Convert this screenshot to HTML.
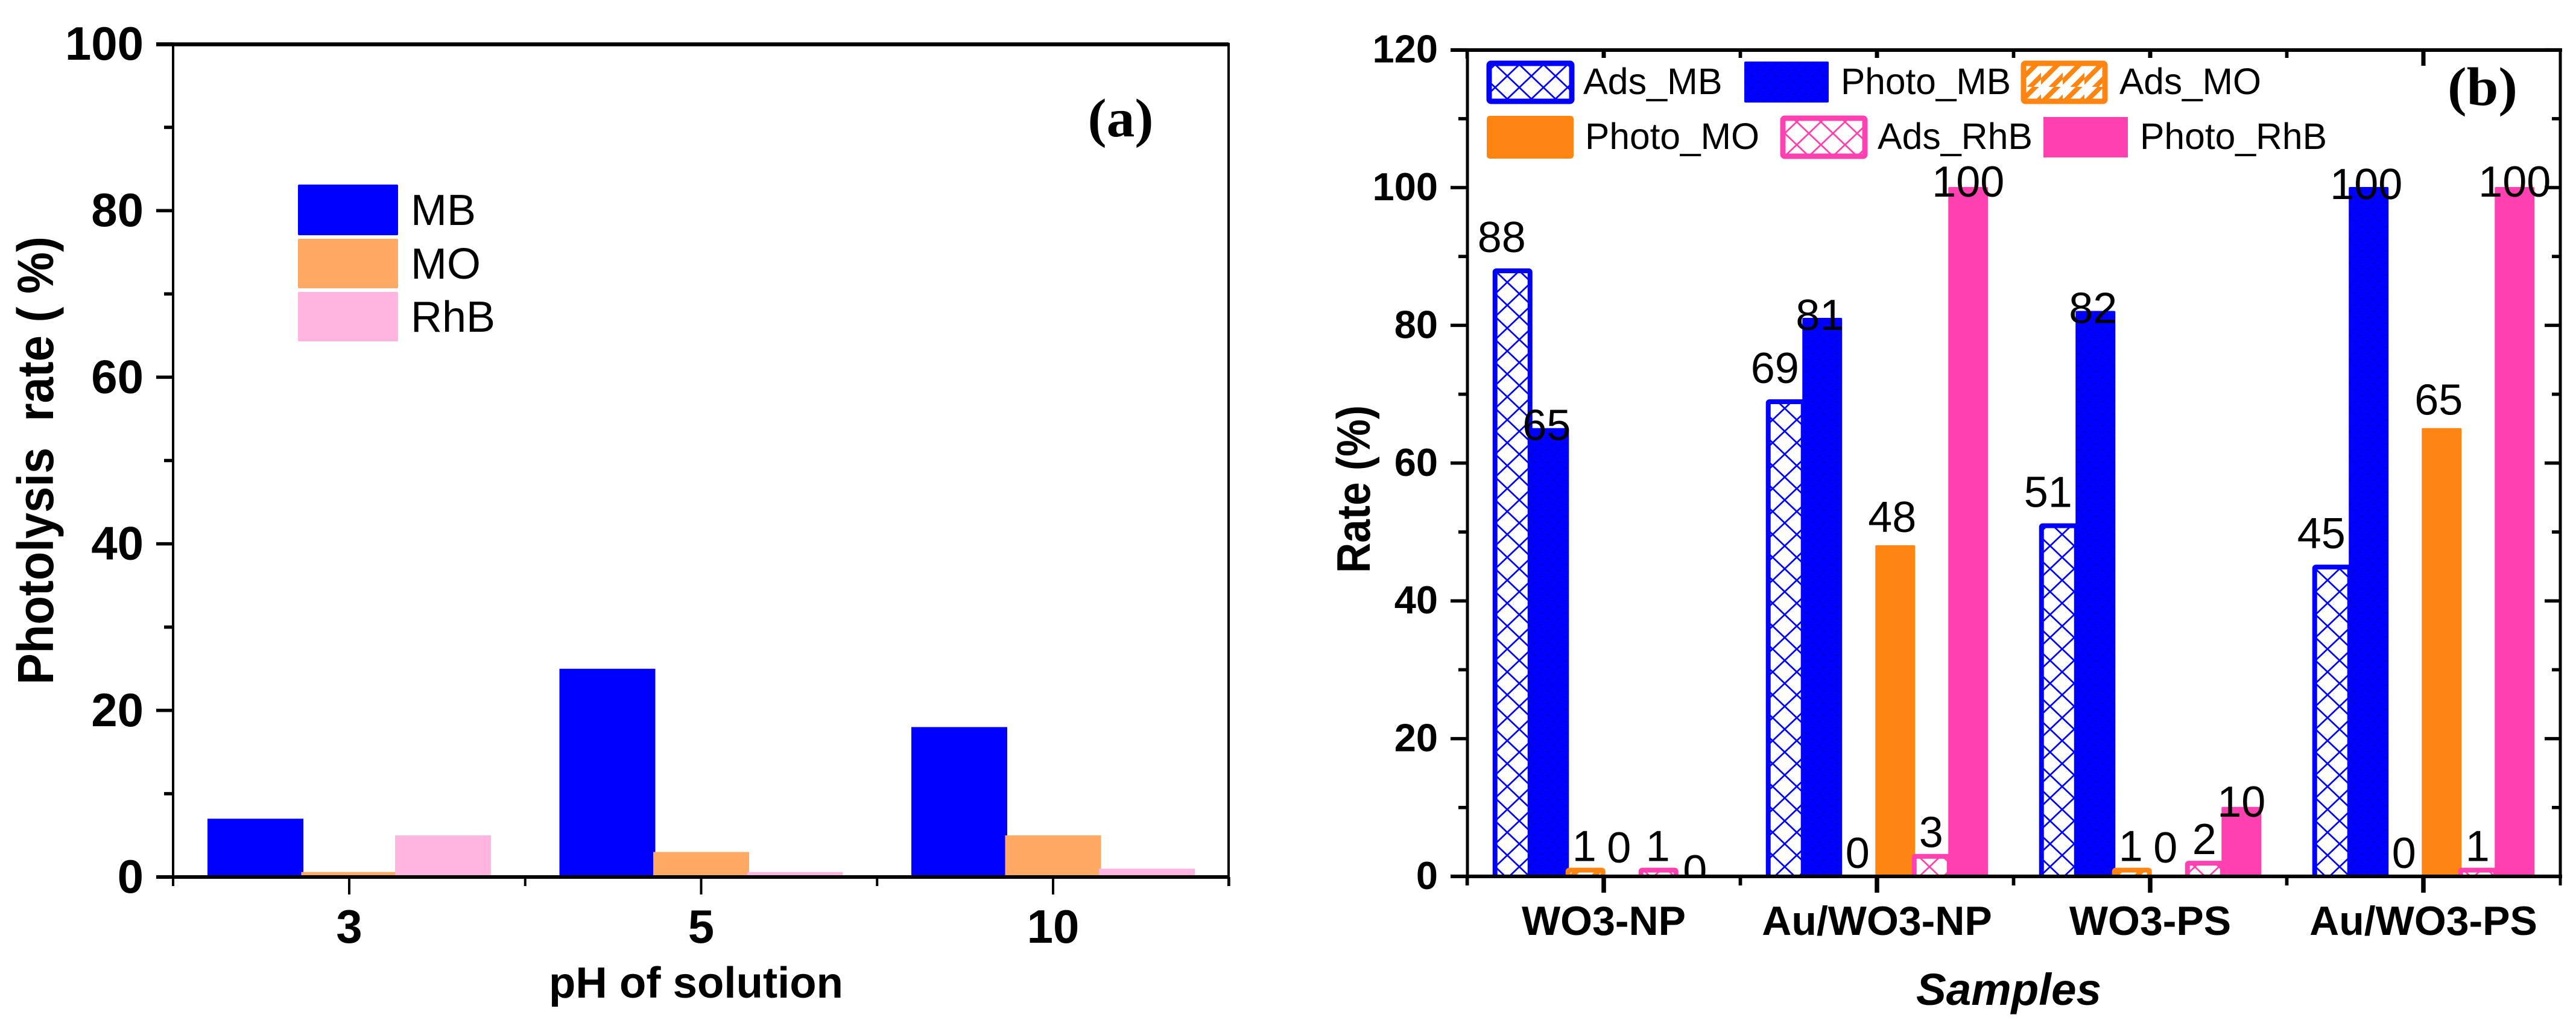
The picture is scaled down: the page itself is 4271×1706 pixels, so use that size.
<!DOCTYPE html>
<html lang="en">
<head>
<meta charset="utf-8">
<title>Photolysis rate and adsorption/photocatalysis rate charts</title>
<style>
html,body{margin:0;padding:0;background:#fff;}
body{width:4271px;height:1706px;overflow:hidden;}
svg{display:block;}
text{font-family:"Liberation Sans",sans-serif;fill:#000;}
.b{font-weight:bold;}
.panel-tag{font-family:"Liberation Serif",serif;font-weight:bold;font-size:90px;}
.leg{font-size:61px;}
</style>
</head>
<body>
<svg id="fig" xmlns="http://www.w3.org/2000/svg" width="4271" height="1706" viewBox="0 0 4271 1706">
  <defs>
    <pattern id="hatch-blue" patternUnits="userSpaceOnUse" width="40" height="38" patternTransform="translate(19,12)">
      <path d="M0 0L40 38M40 0L0 38" stroke="#0000ff" stroke-width="2.8" fill="none"/>
    </pattern>
    <pattern id="hatch-pink" patternUnits="userSpaceOnUse" width="40" height="38" patternTransform="translate(19,12)">
      <path d="M0 0L40 38M40 0L0 38" stroke="#ff40b0" stroke-width="2.8" fill="none"/>
    </pattern>
    <pattern id="hatch-orange" patternUnits="userSpaceOnUse" width="36" height="36">
      <path d="M-9 36L36 -9M9 45L45 9" stroke="#ff8513" stroke-width="8" fill="none"/>
    </pattern>
    <pattern id="dots-blue" patternUnits="userSpaceOnUse" width="20" height="20">
      <rect width="20" height="20" fill="#0000ff"/>
      <path d="M2 6h6M12 16h6" stroke="#0000cc" stroke-width="2" fill="none"/>
    </pattern>
    <clipPath id="plot-b-clip"><rect x="2433" y="83" width="1812" height="1370"/></clipPath>
  </defs>
  <rect width="4271" height="1706" fill="#fff"/>

  <g id="bars-a"></g>
  <g id="axes-a"></g>

  <g>
    <rect x="494" y="306" width="166" height="84" rx="2" fill="#0000ff"/>
    <text x="681" y="373" font-size="72">MB</text>
    <rect x="494" y="396" width="166" height="82" rx="2" fill="#ffa964"/>
    <text x="681" y="462" font-size="72">MO</text>
    <rect x="494" y="484" width="166" height="82" rx="2" fill="#ffb5e0"/>
    <text x="681" y="550" font-size="72">RhB</text>
  </g>

  <text class="panel-tag" x="1858" y="226" text-anchor="middle" textLength="109" lengthAdjust="spacingAndGlyphs">(a)</text>
  <text class="b" x="910" y="1654" font-size="72" textLength="488" lengthAdjust="spacingAndGlyphs">pH of solution</text>
  <text class="b" transform="translate(88,1135) rotate(-90)" x="0" y="0" font-size="84" textLength="743" lengthAdjust="spacingAndGlyphs">Photolysis&#160;&#160;rate ( %)</text>

  <g id="bars-b" clip-path="url(#plot-b-clip)"></g>
  <g id="labels-b" clip-path="url(#plot-b-clip)"></g>
  <g id="axes-b"></g>
  <rect x="2437" y="96" width="1465" height="172" fill="#fff"/>

  <g>
    <rect x="2469" y="105" width="137" height="63" rx="3" fill="url(#hatch-blue)" stroke="#0000ff" stroke-width="9"/>
    <text class="leg" x="2625" y="156">Ads_MB</text>
    <rect x="2892" y="102" width="140" height="68" rx="2" fill="url(#dots-blue)"/>
    <text class="leg" x="3052" y="156" textLength="282" lengthAdjust="spacingAndGlyphs">Photo_MB</text>
    <rect x="3355" y="105" width="135" height="63" rx="3" fill="url(#hatch-orange)" stroke="#ff8513" stroke-width="9"/>
    <text class="leg" x="3514" y="156" textLength="235" lengthAdjust="spacingAndGlyphs">Ads_MO</text>
    <rect x="2465" y="192" width="144" height="71" rx="5" fill="#ff8513"/>
    <text class="leg" x="2628" y="247" textLength="289" lengthAdjust="spacingAndGlyphs">Photo_MO</text>
    <rect x="2956" y="196" width="136" height="63" rx="3" fill="url(#hatch-pink)" stroke="#ff40b0" stroke-width="9"/>
    <text class="leg" x="3113" y="247" textLength="257" lengthAdjust="spacingAndGlyphs">Ads_RhB</text>
    <rect x="3388" y="194" width="140" height="67" fill="#ff40b0"/>
    <text class="leg" x="3548" y="247" textLength="310" lengthAdjust="spacingAndGlyphs">Photo_RhB</text>
  </g>

  <text class="panel-tag" x="4116" y="174" text-anchor="middle" textLength="116" lengthAdjust="spacingAndGlyphs">(b)</text>
  <text class="b" x="3177" y="1666" font-size="74" font-style="italic" textLength="307" lengthAdjust="spacingAndGlyphs">Samples</text>
  <text class="b" transform="translate(2271,950) rotate(-90)" x="0" y="0" font-size="78" textLength="278" lengthAdjust="spacingAndGlyphs">Rate (%)</text>
</svg>

<script>
// Panel (a) data
const phCategories = ['3', '5', '10'];
const mbRates = [7, 25, 18];
const moRates = [0.6, 3, 5];
const rhbRates = [5, 0.6, 1];
const yTicksA = [0, 20, 40, 60, 80, 100];
const yMinorTicksA = [10, 30, 50, 70, 90];

// Panel (b) data
const sampleNames = ['WO3-NP', 'Au/WO3-NP', 'WO3-PS', 'Au/WO3-PS'];
const adsMB = [88, 69, 51, 45];
const photoMB = [65, 81, 82, 100];
const adsMO = [1, 0, 1, 0];
const photoMO = [0, 48, 0, 65];
const adsRhB = [1, 3, 2, 1];
const photoRhB = [0, 100, 10, 100];
const yTicksB = [0, 20, 40, 60, 80, 100, 120];
const yMinorTicksB = [10, 30, 50, 70, 90, 110];

const NS = 'http://www.w3.org/2000/svg';
function mk(parent, tag, attrs, txt) {
  const el = document.createElementNS(NS, tag);
  for (const k in attrs) el.setAttribute(k, attrs[k]);
  if (txt !== undefined) el.textContent = txt;
  parent.appendChild(el);
  return el;
}
function line(parent, x1, y1, x2, y2, w) {
  return mk(parent, 'line', {x1: x1, y1: y1, x2: x2, y2: y2, stroke: '#000', 'stroke-width': w});
}

/* ---------- Panel (a) ---------- */
const barsA = document.getElementById('bars-a');
const axesA = document.getElementById('axes-a');
const yA = v => 1454 - v * 13.81;
const xGroupA = i => 579 + i * 583.5;
const seriesA = [
  {key: 'mb', vals: mbRates, color: '#0000ff'},
  {key: 'mo', vals: moRates, color: '#ffa964'},
  {key: 'rhb', vals: rhbRates, color: '#ffb5e0'}
];
seriesA.forEach((s, si) => {
  s.vals.forEach((v, i) => {
    const cx = xGroupA(i) + (si - 1) * 155.5;
    const r = mk(barsA, 'rect', {x: cx - 79.5, y: yA(v), width: 159, height: yA(0) - yA(v), fill: s.color});
    
    
  });
});
let a;
a = line(axesA, 259, 73.5, 2037, 73.5, 6.5);


a = line(axesA, 259, 1454, 2037, 1454, 6);


a = line(axesA, 287, 71, 287, 1469, 4);


a = line(axesA, 2037, 71, 2037, 1469, 4);


yTicksA.forEach(v => {
  const t = line(axesA, 259, yA(v), 287, yA(v), 5.5);
  
  
  const l = mk(axesA, 'text', {x: 238, y: yA(v) + 26, 'text-anchor': 'end', 'font-size': 78, 'font-weight': 'bold'}, String(v));
  
  
});
yMinorTicksA.forEach(v => {
  const t = line(axesA, 272, yA(v), 287, yA(v), 5.5);
  
  
});
phCategories.forEach((c, i) => {
  const x = xGroupA(i);
  const t = line(axesA, x, 1454, x, 1483, 4);
  
  
  const m = line(axesA, x + 291.75, 1454, x + 291.75, 1469, 4);
  
  
  const l = mk(axesA, 'text', {x: x, y: 1563, 'text-anchor': 'middle', 'font-size': 78, 'font-weight': 'bold'}, c);
  
  
});

/* ---------- Panel (b) ---------- */
const barsB = document.getElementById('bars-b');
const labelsB = document.getElementById('labels-b');
const axesB = document.getElementById('axes-b');
const yB = v => 1453 - v * 11.42;
const xGroupB = i => 2659 + i * 453;
const BAR_STEP = 60.5, BAR_W = 66;
const seriesB = [
  {key: 'ads-mb', vals: adsMB, fill: 'url(#hatch-blue)', stroke: '#0000ff', dx: -18, dy: -30},
  {key: 'photo-mb', vals: photoMB, fill: 'url(#dots-blue)', stroke: null, dx: -4, dy: 19},
  {key: 'ads-mo', vals: adsMO, fill: 'url(#hatch-orange)', stroke: '#ff8513', dx: -2, dy: -14},
  {key: 'photo-mo', vals: photoMO, fill: '#ff8513', stroke: null, dx: -5, dy: -23},
  {key: 'ads-rhb', vals: adsRhB, fill: 'url(#hatch-pink)', stroke: '#ff40b0', dx: -1, dy: -14},
  {key: 'photo-rhb', vals: photoRhB, fill: '#ff40b0', stroke: null, dx: 0, dy: 15}
];
seriesB.forEach((s, si) => {
  s.vals.forEach((v, i) => {
    const cx = xGroupB(i) + (si - 2.5) * BAR_STEP;
    if (v > 0) {
      const inset = s.stroke ? 4 : 0;
      const attrs = {
        x: cx - BAR_W / 2 + inset,
        y: yB(v) + (s.stroke ? 1 : -1),
        width: BAR_W - 2 * inset,
        height: yB(0) - yB(v) + 12,
        rx: 2,
        fill: s.fill
      };
      if (s.stroke) { attrs.stroke = s.stroke; attrs['stroke-width'] = 8; }
      const r = mk(barsB, 'rect', attrs);
      
      
    }
    const l = mk(labelsB, 'text', {x: cx + s.dx, y: yB(v) + s.dy, 'text-anchor': 'middle', 'font-size': 72}, String(v));
    
    
  });
});
a = line(axesB, 2405, 83, 4248, 83, 6);


a = line(axesB, 2405, 1453, 4248, 1453, 6);


a = line(axesB, 2433, 80, 2433, 1468, 5);


a = line(axesB, 4245, 80, 4245, 1468, 5);


yTicksB.forEach(v => {
  const t = line(axesB, 2405, yB(v), 2433, yB(v), 5.5);
  
  
  const r = line(axesB, 4219, yB(v), 4245, yB(v), 5.5);
  
  
  const l = mk(axesB, 'text', {x: 2384, y: yB(v) + 21, 'text-anchor': 'end', 'font-size': 65, 'font-weight': 'bold'}, String(v));
  
  
});
yMinorTicksB.forEach(v => {
  const t = line(axesB, 2418, yB(v), 2433, yB(v), 5.5);
  
  
  const r = line(axesB, 4231, yB(v), 4245, yB(v), 5.5);
  
  
});
sampleNames.forEach((c, i) => {
  const x = xGroupB(i);
  const t = line(axesB, x, 1453, x, 1480, 7.5);
  
  
  const tt = line(axesB, x, 83, x, 109, 7);
  
  
  if (i < 3) {
    const m = line(axesB, x + 226.5, 1453, x + 226.5, 1468, 5.5);
    
    
    const mt = line(axesB, x + 226.5, 83, x + 226.5, 97, 5.5);
    
    
  }
  const mt0 = line(axesB, x - 226.5, 83, x - 226.5, 97, 5.5);
  
  
  const lb = line(axesB, x - 226.5, 1453, x - 226.5, 1468, 5.5);
  
  
  const l = mk(axesB, 'text', {x: x, y: 1550, 'text-anchor': 'middle', 'font-size': 68, 'font-weight': 'bold'}, c);
  
  
});
</script>
</body>
</html>
